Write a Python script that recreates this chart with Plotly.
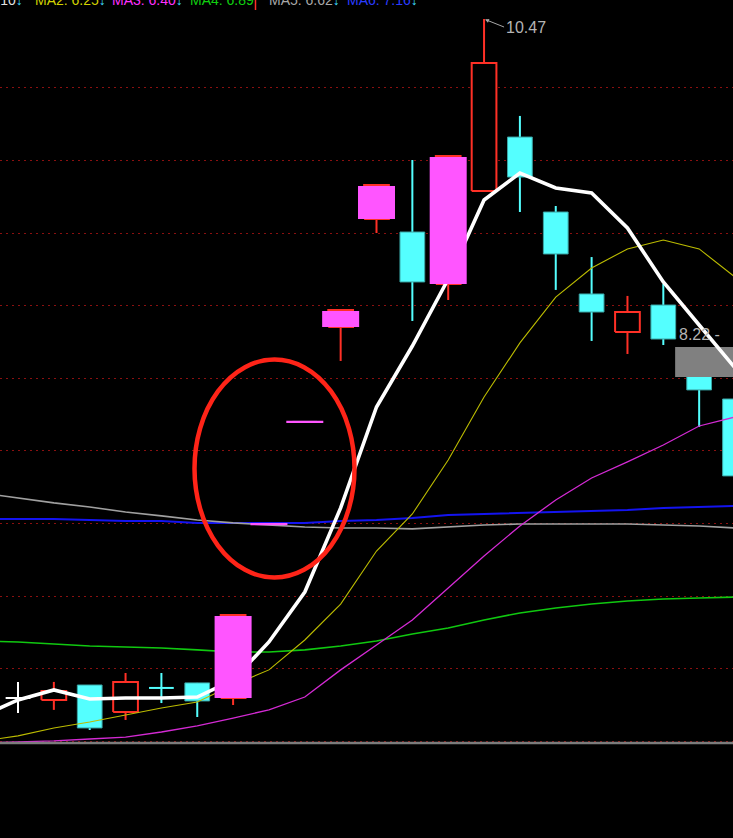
import plotly.graph_objects as go

# ---------------- data ----------------
candle_idx = list(range(21))
opens  = [5.615, 5.601, 5.708, 5.515, 5.687, 5.723, 5.615, 6.859, 7.589, 8.268, 9.040,
          8.947, 8.575, 9.240, 9.626, 9.090, 8.504, 8.232, 8.425, 7.960, 7.753]
highs  = [5.730, 5.730, 5.708, 5.794, 5.794, 5.723, 6.209, 6.859, 7.589, 8.389, 9.283,
          9.462, 9.491, 10.470, 9.777, 9.133, 8.768, 8.490, 8.575, 7.960, 7.753]
lows   = [5.508, 5.530, 5.386, 5.458, 5.579, 5.479, 5.565, 6.859, 7.589, 8.025, 8.940,
          8.311, 8.461, 9.240, 9.090, 8.533, 8.168, 8.075, 8.139, 7.553, 7.203]
closes = [5.615, 5.665, 5.401, 5.730, 5.687, 5.594, 6.209, 6.859, 7.589, 8.389, 9.283,
          8.590, 9.491, 10.156, 9.340, 8.790, 8.375, 8.375, 8.182, 7.818, 7.203]

ma_idx = list(range(-1, 21))
ma1 = [5.487, 5.601, 5.673, 5.608, 5.615, 5.615, 5.622, 5.744, 6.016, 6.373, 6.974,
       7.696, 8.132, 8.611, 9.176, 9.369, 9.262, 9.226, 8.976, 8.590, 8.282, 7.975]
ma2 = [5.308, 5.344, 5.401, 5.444, 5.494, 5.544, 5.587, 5.708, 5.816, 6.030, 6.287,
       6.666, 6.931, 7.317, 7.767, 8.154, 8.482, 8.690, 8.826, 8.890, 8.826, 8.625]
ma3 = [5.294, 5.301, 5.308, 5.322, 5.336, 5.372, 5.415, 5.472, 5.530, 5.622, 5.816,
       5.994, 6.173, 6.402, 6.631, 6.845, 7.031, 7.188, 7.303, 7.424, 7.560, 7.624]
ma4 = [6.023, 6.016, 6.001, 5.987, 5.980, 5.973, 5.959, 5.944, 5.944, 5.959, 5.987,
       6.023, 6.073, 6.116, 6.173, 6.223, 6.259, 6.287, 6.309, 6.323, 6.330, 6.337]
ma5 = [7.081, 7.045, 7.010, 6.981, 6.945, 6.917, 6.888, 6.867, 6.852, 6.838, 6.831,
       6.831, 6.824, 6.838, 6.852, 6.859, 6.859, 6.859, 6.859, 6.852, 6.845, 6.831]
ma6 = [6.895, 6.895, 6.895, 6.888, 6.881, 6.881, 6.867, 6.867, 6.867, 6.867, 6.881,
       6.888, 6.902, 6.924, 6.931, 6.938, 6.945, 6.952, 6.960, 6.974, 6.981, 6.988]

legend_texts = ["MA1: 7.10", "MA2: 6.25", "MA3: 6.40", "MA4: 6.89", "MA5: 6.62", "MA6: 7.16"]
high_label = "10.47"
high_label_idx = 13
side_label = "8.22 -"
side_label_price = 8.211
cursor_box_idx = [18.33, 20.6]
cursor_box_price = [7.910, 8.125]

# ---------------- layout helpers ----------------
W, H = 733, 838
X_RANGE = [-0.502, 19.944]
Y_RANGE = [4.614, 10.606]


def px_x(px):
    return X_RANGE[0] + px / W * (X_RANGE[1] - X_RANGE[0])


def px_y(py):
    return Y_RANGE[1] - py / H * (Y_RANGE[1] - Y_RANGE[0])


RED = "#ff3026"
CYAN = "#54ffff"
CYAN_EDGE = "#3aa6a6"
PINK = "#ff55ff"
WHITE = "#ffffff"
HALF = 0.345
PINK_HALF = 0.516

# classify candles
kinds = []
for i, (o, c) in enumerate(zip(opens, closes)):
    if c > o:
        kinds.append("up")
    elif c < o:
        kinds.append("down")
    else:
        prev = closes[i - 1] if i > 0 else c
        kinds.append("flat_down" if c < prev else "flat")
limit_up = [i > 0 and closes[i] / closes[i - 1] > 1.09 for i in candle_idx]


def wick_xy(sel):
    xs, ys = [], []
    for i in candle_idx:
        if sel(kinds[i]) and highs[i] > lows[i]:
            xs += [i, i, None]
            ys += [lows[i], highs[i], None]
    return xs, ys


def rect_xy(idxs, half, lo_list, hi_list):
    xs, ys = [], []
    for i in idxs:
        lo, hi = lo_list[i], hi_list[i]
        xs += [i - half, i + half, i + half, i - half, i - half, None]
        ys += [lo, lo, hi, hi, lo, None]
    return xs, ys


def hline_xy(idxs, half, vals):
    xs, ys = [], []
    for i in idxs:
        xs += [i - half, i + half, None]
        ys += [vals[i], vals[i], None]
    return xs, ys


fig = go.Figure()

# wicks
for sel, col in [(lambda k: k == "up", RED), (lambda k: k == "down", CYAN),
                 (lambda k: k == "flat", WHITE), (lambda k: k == "flat_down", CYAN)]:
    wx, wy = wick_xy(sel)
    fig.add_trace(go.Scatter(x=wx, y=wy, mode="lines", line=dict(color=col, width=2),
                             hoverinfo="skip", showlegend=False))

body_lo = [min(o, c) for o, c in zip(opens, closes)]
body_hi = [max(o, c) for o, c in zip(opens, closes)]

up_idx = [i for i in candle_idx if kinds[i] == "up"]
down_idx = [i for i in candle_idx if kinds[i] == "down"]
flat_idx = [i for i in candle_idx if kinds[i] == "flat"]
flatd_idx = [i for i in candle_idx if kinds[i] == "flat_down"]

bx, by = rect_xy(up_idx, HALF, body_lo, body_hi)
fig.add_trace(go.Scatter(x=bx, y=by, mode="lines", fill="toself", fillcolor="black",
                         line=dict(color=RED, width=2), hoverinfo="skip", showlegend=False))
bx, by = rect_xy(down_idx, HALF, body_lo, body_hi)
fig.add_trace(go.Scatter(x=bx, y=by, mode="lines", fill="toself", fillcolor=CYAN,
                         line=dict(color=CYAN_EDGE, width=1), hoverinfo="skip", showlegend=False))
fx, fy = hline_xy(flat_idx, HALF, closes)
fig.add_trace(go.Scatter(x=fx, y=fy, mode="lines", line=dict(color=WHITE, width=2),
                         hoverinfo="skip", showlegend=False))
fx, fy = hline_xy(flatd_idx, HALF, closes)
fig.add_trace(go.Scatter(x=fx, y=fy, mode="lines", line=dict(color=CYAN, width=2),
                         hoverinfo="skip", showlegend=False))

# gray cursor box
fig.add_trace(go.Scatter(
    x=[cursor_box_idx[0], cursor_box_idx[1], cursor_box_idx[1], cursor_box_idx[0], cursor_box_idx[0]],
    y=[cursor_box_price[0], cursor_box_price[0], cursor_box_price[1], cursor_box_price[1], cursor_box_price[0]],
    mode="lines", fill="toself", fillcolor="#808080", line=dict(color="#808080", width=0),
    hoverinfo="skip", showlegend=False))

# moving averages
for vals, col, wdt in [(ma6, "#1414f0", 2), (ma5, "#a0a0a0", 1.6), (ma4, "#10c810", 1.6),
                       (ma3, "#d42ad4", 1.3), (ma2, "#bcbc00", 1.1), (ma1, WHITE, 3.6)]:
    fig.add_trace(go.Scatter(x=ma_idx, y=vals, mode="lines", line=dict(color=col, width=wdt),
                             hoverinfo="skip", showlegend=False))

# limit-up overlays
lim_body = [i for i in candle_idx if limit_up[i] and opens[i] != closes[i]]
lim_flat = [i for i in candle_idx if limit_up[i] and opens[i] == closes[i]]
px_, py_ = rect_xy(lim_body, PINK_HALF, body_lo, [h - 0.007 for h in body_hi])
fig.add_trace(go.Scatter(x=px_, y=py_, mode="lines", fill="toself", fillcolor=PINK,
                         line=dict(color=PINK, width=0), hoverinfo="skip", showlegend=False))
fx, fy = hline_xy(lim_flat, PINK_HALF, closes)
fig.add_trace(go.Scatter(x=fx, y=fy, mode="lines", line=dict(color=PINK, width=2.2),
                         hoverinfo="skip", showlegend=False))

# grid values
grid_vals = [9.977 - 0.519 * n for n in range(10)]

shapes = [
    dict(type="line", xref="paper", x0=0, x1=1, yref="y", y0=5.294, y1=5.294,
         line=dict(color="#7c7c7c", width=2.5), layer="above"),
    dict(type="circle", xref="x", yref="y", x0=px_x(194.5), x1=px_x(354.5),
         y0=px_y(577.5), y1=px_y(359.5), line=dict(color="#ff2418", width=4.5), layer="above"),
    dict(type="line", xref="x", yref="paper", x0=px_x(255.5), x1=px_x(255.5),
         y0=1, y1=1 - 10 / H, line=dict(color=RED, width=1.5), layer="above"),
]

font_fam = "Liberation Sans, Arial, sans-serif"
arrow_span = '<span style="color:#3cdcff">↓</span>'
legend_specs = [
    (legend_texts[0], "#e0e0e0", 25, "right", True),
    (legend_texts[1], "#d2d200", 33, "left", True),
    (legend_texts[2], "#ff30ff", 110, "left", True),
    (legend_texts[3], "#10d010", 188, "left", False),
    (legend_texts[4], "#a8a8a8", 267, "left", True),
    (legend_texts[5], "#2a3cff", 345, "left", True),
]
annotations = []
for txt, col, xpx, anch, arr in legend_specs:
    annotations.append(dict(
        xref="paper", yref="paper", x=xpx / W, y=1, xanchor=anch, yanchor="bottom",
        yshift=-10, showarrow=False, text=txt + (arrow_span if arr else ""),
        font=dict(color=col, size=14, family=font_fam)))

annotations.append(dict(
    x=high_label_idx, y=highs[high_label_idx], xref="x", yref="y", text=high_label,
    showarrow=True, ax=20, ay=8, xanchor="left", yanchor="middle",
    arrowhead=2, arrowsize=0.8, arrowwidth=1, arrowcolor="#a8a8a8", standoff=1,
    font=dict(color="#b4b4b4", size=16, family=font_fam)))
annotations.append(dict(
    x=px_x(677), y=side_label_price, xref="x", yref="y", text=side_label, showarrow=False,
    xanchor="left", yanchor="middle", font=dict(color="#b4b4b4", size=16, family=font_fam)))

fig.update_layout(
    width=W, height=H, autosize=False,
    margin=dict(l=0, r=0, t=0, b=0, pad=0),
    paper_bgcolor="black", plot_bgcolor="black",
    showlegend=False,
    xaxis=dict(range=X_RANGE, visible=False, fixedrange=True),
    yaxis=dict(range=Y_RANGE, showticklabels=False, ticks="", zeroline=False,
               showline=False, tickvals=grid_vals, showgrid=True,
               gridcolor="#8a1010", gridwidth=1, griddash="2px,4px", fixedrange=True),
    shapes=shapes,
    annotations=annotations,
    hovermode=False,
)

fig.write_html("out.html", config={"displayModeBar": False},
               post_script="document.body.style.margin='0';document.body.style.background='black';")
